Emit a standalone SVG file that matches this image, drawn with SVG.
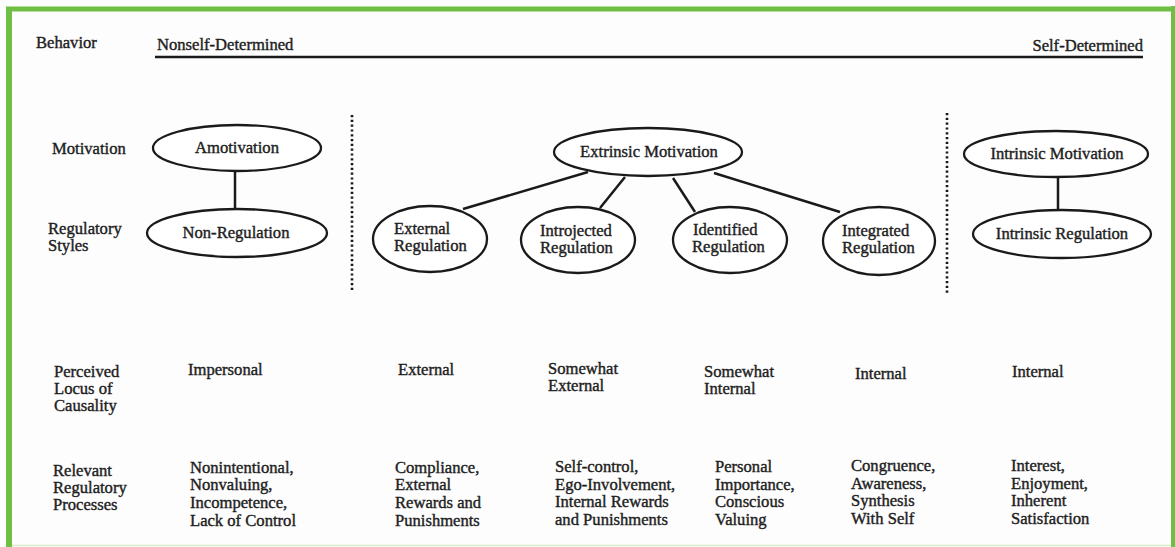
<svg xmlns="http://www.w3.org/2000/svg" width="1175" height="547" viewBox="0 0 1175 547">
<style>
text{font-family:"Liberation Serif","Times New Roman",serif;font-size:16.6px;fill:#1e1e1e;stroke:#1e1e1e;stroke-width:0.4}
.c{text-anchor:middle}
.e{fill:#fff;stroke:#1a1a1a;stroke-width:2.3}
.ln{stroke:#1a1a1a;stroke-width:2.5;fill:none}
.dot{stroke:#1a1a1a;stroke-width:2.6;stroke-dasharray:2.2 2.6;fill:none}
</style>
<rect x="0" y="0" width="1175" height="547" fill="#fdfdfd"/>
<g id="frame">
<line x1="9" y1="8" x2="9" y2="547" stroke="#6fbf44" stroke-width="6"/>
<line x1="6" y1="9" x2="1175" y2="9" stroke="#6fbf44" stroke-width="5"/>
<line x1="1173" y1="6" x2="1173" y2="547" stroke="#6fbf44" stroke-width="4"/>
<line x1="12" y1="545.5" x2="1171" y2="545.5" stroke="#d6efc8" stroke-width="1.5"/>
</g>
<g id="header">
<text x="36" y="48">Behavior</text>
<text x="157" y="50">Nonself-Determined</text>
<text x="1143" y="51" text-anchor="end">Self-Determined</text>
<line class="ln" x1="155" y1="57" x2="1143" y2="57"/>
</g>
<g id="row-labels">
<text x="52" y="154">Motivation</text>
<text x="48" y="234">Regulatory</text>
<text x="48" y="251">Styles</text>
<text x="54" y="377">Perceived</text>
<text x="54" y="394">Locus of</text>
<text x="54" y="411">Causality</text>
<text x="53" y="476">Relevant</text>
<text x="53" y="493">Regulatory</text>
<text x="53" y="510">Processes</text>
</g>
<g id="connectors">
<line class="ln" x1="235" y1="170" x2="235" y2="210"/>
<line class="ln" x1="588" y1="172" x2="463" y2="209"/>
<line class="ln" x1="625" y1="177" x2="600" y2="208"/>
<line class="ln" x1="673" y1="178" x2="695" y2="212"/>
<line class="ln" x1="714" y1="173" x2="840" y2="212"/>
<line class="ln" x1="1058" y1="178" x2="1058" y2="211"/>
<line class="dot" x1="352" y1="115" x2="352" y2="291"/>
<line class="dot" x1="947" y1="113" x2="947" y2="294"/>
</g>
<g id="amotivation">
<ellipse class="e" cx="237" cy="148" rx="84" ry="23"/>
<text class="c" x="237" y="153">Amotivation</text>
</g>
<g id="non-regulation">
<ellipse class="e" cx="237" cy="233" rx="90" ry="24"/>
<text class="c" x="236" y="238">Non-Regulation</text>
</g>
<g id="extrinsic-motivation">
<ellipse class="e" cx="648" cy="152" rx="94" ry="24"/>
<text class="c" x="649" y="157">Extrinsic Motivation</text>
</g>
<g id="external-regulation">
<ellipse class="e" cx="430" cy="239" rx="57" ry="33"/>
<text x="394" y="234">External</text>
<text x="394" y="251">Regulation</text>
</g>
<g id="introjected-regulation">
<ellipse class="e" cx="578" cy="240" rx="57" ry="33"/>
<text x="540" y="236">Introjected</text>
<text x="540" y="253">Regulation</text>
</g>
<g id="identified-regulation">
<ellipse class="e" cx="730" cy="240" rx="57" ry="33"/>
<text x="693" y="235">Identified</text>
<text x="692" y="252">Regulation</text>
</g>
<g id="integrated-regulation">
<ellipse class="e" cx="879" cy="241" rx="56" ry="34"/>
<text x="842" y="236">Integrated</text>
<text x="842" y="253">Regulation</text>
</g>
<g id="intrinsic-motivation">
<ellipse class="e" cx="1056" cy="154" rx="92" ry="23"/>
<text class="c" x="1057" y="159">Intrinsic Motivation</text>
</g>
<g id="intrinsic-regulation">
<ellipse class="e" cx="1062" cy="234" rx="89" ry="24"/>
<text class="c" x="1062" y="239">Intrinsic Regulation</text>
</g>
<g id="locus">
<text x="188" y="375">Impersonal</text>
<text x="398" y="375">External</text>
<text x="548" y="374">Somewhat</text>
<text x="548" y="391">External</text>
<text x="704" y="377">Somewhat</text>
<text x="704" y="394">Internal</text>
<text x="855" y="379">Internal</text>
<text x="1012" y="377">Internal</text>
</g>
<g id="processes">
<text x="190" y="473">Nonintentional,</text>
<text x="190" y="490">Nonvaluing,</text>
<text x="190" y="508">Incompetence,</text>
<text x="190" y="526">Lack of Control</text>
<text x="395" y="473">Compliance,</text>
<text x="395" y="490">External</text>
<text x="395" y="508">Rewards and</text>
<text x="395" y="526">Punishments</text>
<text x="555" y="472">Self-control,</text>
<text x="555" y="490">Ego-Involvement,</text>
<text x="555" y="507">Internal Rewards</text>
<text x="555" y="525">and Punishments</text>
<text x="715" y="472">Personal</text>
<text x="715" y="490">Importance,</text>
<text x="715" y="507">Conscious</text>
<text x="715" y="525">Valuing</text>
<text x="851" y="471">Congruence,</text>
<text x="851" y="489">Awareness,</text>
<text x="851" y="506">Synthesis</text>
<text x="851" y="524">With Self</text>
<text x="1011" y="471">Interest,</text>
<text x="1011" y="489">Enjoyment,</text>
<text x="1011" y="506">Inherent</text>
<text x="1011" y="524">Satisfaction</text>
</g>
</svg>
